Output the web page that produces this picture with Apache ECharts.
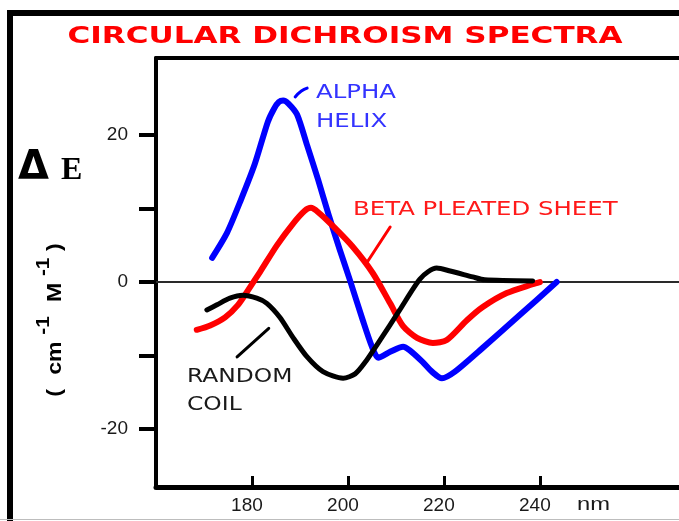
<!DOCTYPE html>
<html><head><meta charset="utf-8">
<script src="https://cdn.jsdelivr.net/npm/echarts@6/dist/echarts.min.js"></script>
<style>html,body{margin:0;padding:0;background:#fff}#c{width:679px;height:521px}</style>
</head><body><div id="c"></div>
<script>
// Wavelength (nm) and delta-epsilon values
const alphaNm = [171.7,174.8,177.7,180.6,183.3,184.6,185.6,186.5,187.6,189.4,191.5,193.8,196.0,198.3,200.4,203.1,205.0,206.3,208.8,211.5,212.9,215.6,217.5,219.6,222.3,227.5,235.8,243.5];
const alphaDE = [3.3,6.7,11.2,16.1,21.8,23.6,24.5,24.7,24.3,22.8,18.6,13.9,9.1,4.4,0.3,-5.2,-8.8,-10.3,-9.5,-8.8,-9.3,-10.9,-12.2,-13.1,-12.2,-9.3,-4.5,0];
const betaNm = [168.5,171.3,174.4,177.1,179.2,181.7,185.2,188.5,191.0,192.3,193.8,196.9,201.0,205.2,208.8,211.5,214.4,217.7,220.6,224.8,228.1,233.1,238.5,240.0];
const betaDE = [-6.5,-5.9,-4.8,-3.1,-1.1,1.4,5.0,7.9,9.7,10.1,9.5,7.6,4.8,1.2,-2.9,-6.0,-7.6,-8.3,-7.9,-5.2,-3.4,-1.5,-0.3,0];
const coilNm = [170.6,172.7,175.4,178.1,181.0,183.1,185.8,188.5,191.5,194.8,199.0,201.5,203.5,206.7,210.8,213.1,215.0,216.7,218.5,221.3,226.0,228.5,238.5];
const coilDE = [-3.8,-3.1,-2.2,-1.8,-2.2,-2.9,-4.8,-7.5,-10.2,-12.2,-13.1,-12.5,-11.0,-7.9,-3.8,-1.4,0.4,1.4,1.9,1.5,0.7,0.3,0.15];
// Leader lines of the annotations (data coordinates)
const alphaLeaderNm = [189.0,190.3,191.5];
const alphaLeaderDE = [25.2,26.0,26.4];
const betaLeaderNm = [208.8,204.0];
const betaLeaderDE = [7.5,2.7];
const coilLeaderNm = [183.5,176.9];
const coilLeaderDE = [-6.3,-10.2];
// Ticks and labels
const xTicks = [180,200,220,240];
const yTicks = [-20,-10,0,10,20];
const yLabels = [-20,0,20];

const zip = (a,b)=>a.map((v,i)=>[v,b[i]]);
const chart = echarts.init(document.getElementById('c'));
const curve = (name, nm, de, color, w) => ({
  name, type:'line', data: zip(nm,de), symbol:'none', smooth:0.25,
  lineStyle:{color, width:w, cap:'round', join:'round'}, z:3
});
const leader = (nm, de, color, w) => ({
  type:'line', data: zip(nm,de), symbol:'none', smooth:0.5,
  lineStyle:{color, width:w, cap:'round'}, z:3, silent:true
});
const blue = curve('ALPHA HELIX', alphaNm, alphaDE, '#0000ff', 6);
blue.markLine = {silent:true, symbol:['none','none'], label:{show:false},
  lineStyle:{color:'#2a2a2a', width:2, type:'solid'}, data:[{yAxis:0}], z:1};
const option = {
  animation:false,
  grid:{left:156, top:58, right:0, bottom:34},
  xAxis:[{type:'value', min:160, max:269, position:'bottom',
    axisLine:{show:true, onZero:false, lineStyle:{color:'#000', width:5}},
    axisTick:{show:true, inside:true, length:11, customValues:xTicks, lineStyle:{color:'#000', width:3}},
    axisLabel:{customValues:xTicks, fontSize:19, color:'#1a1a1a', margin:9, fontFamily:'Liberation Sans', padding:[0,10,0,0]},
    splitLine:{show:false}},
   {type:'value', min:160, max:269, position:'top',
    axisLine:{show:true, onZero:false, lineStyle:{color:'#000', width:4}},
    axisTick:{show:false}, axisLabel:{show:false}, splitLine:{show:false}}],
  yAxis:{type:'value', min:-27.9, max:30.5,
    axisLine:{show:true, onZero:false, lineStyle:{color:'#000', width:4}},
    axisTick:{show:true, length:17, customValues:yTicks, lineStyle:{color:'#000', width:4}},
    axisLabel:{customValues:yLabels, fontSize:19, color:'#1a1a1a', margin:28, fontFamily:'Liberation Sans'},
    splitLine:{show:false}},
  series:[
    blue,
    curve('BETA PLEATED SHEET', betaNm, betaDE, '#ff0000', 6),
    curve('RANDOM COIL', coilNm, coilDE, '#000000', 5),
    leader(alphaLeaderNm, alphaLeaderDE, '#0000ff', 3),
    leader(betaLeaderNm, betaLeaderDE, '#ff0000', 3),
    leader(coilLeaderNm, coilLeaderDE, '#000000', 3)
  ],
  graphic:[
    {type:'rect', shape:{x:7,y:10,width:690,height:6}, style:{fill:'#000'}},
    {type:'rect', shape:{x:7,y:10,width:6,height:520}, style:{fill:'#000'}},
    {type:'line', shape:{x1:0,y1:519.5,x2:679,y2:519.5}, style:{stroke:'#bdbdbd', lineWidth:1}},
    {type:'text', x:345, y:37, scaleX:1.35, style:{text:'CIRCULAR DICHROISM SPECTRA', fill:'#ff0000',
      font:'bold 23px "DejaVu Sans"', align:'center', verticalAlign:'middle'}},
    {type:'text', x:18, y:169, style:{text:'Δ', fill:'#000', font:'bold 40px "DejaVu Sans"', align:'left', verticalAlign:'middle'}},
    {type:'text', x:61, y:171, style:{text:'E', fill:'#000', font:'bold 32px "Liberation Serif"', align:'left', verticalAlign:'middle'}},
    {type:'text', x:50, y:320, rotation:Math.PI/2, scaleX:1.1, style:{
      text:'{p|(}{b|cm}{s|-1}{b|M}{s|-1}{p|)}', align:'center', verticalAlign:'middle',
      rich:{p:{fontSize:21, fontWeight:'bold', fontFamily:'Liberation Sans', fill:'#000', lineHeight:32, verticalAlign:'bottom', padding:[0,3,0,3]},
            b:{fontSize:21, fontWeight:'bold', fontFamily:'Liberation Sans', fill:'#000', lineHeight:32, verticalAlign:'bottom', padding:[0,2,0,10]},
            s:{fontSize:19, fontWeight:'bold', fontFamily:'Liberation Sans', fill:'#000', lineHeight:32, verticalAlign:'top', padding:[0,3,0,4]}}}},
    {type:'text', x:577, y:505, scaleX:1.25, style:{text:'nm', fill:'#1a1a1a', font:'19px "Liberation Sans"', align:'left', verticalAlign:'middle'}},
    {type:'text', x:316, y:78, scaleX:1.22, style:{text:'ALPHA\nHELIX', fill:'#3333ff', font:'20px "DejaVu Sans"', lineHeight:29, align:'left', verticalAlign:'top'}},
    {type:'text', x:353, y:200, scaleX:1.22, style:{text:'BETA PLEATED SHEET', fill:'#ff1a1a', font:'20px "DejaVu Sans"', align:'left', verticalAlign:'top'}},
    {type:'text', x:187, y:363, scaleX:1.17, style:{text:'RANDOM\nCOIL', fill:'#1a1a1a', font:'20px "DejaVu Sans"', lineHeight:28, align:'left', verticalAlign:'top'}}
  ]
};
chart.setOption(option);
</script></body></html>
